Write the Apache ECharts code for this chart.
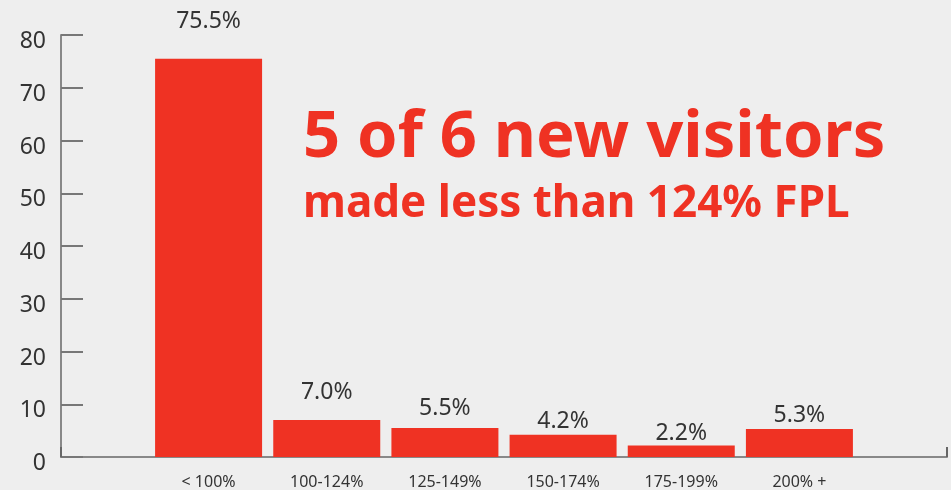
<!DOCTYPE html>
<html>
<head>
<meta charset="utf-8">
<script src="https://cdn.jsdelivr.net/npm/echarts@6/dist/echarts.min.js"></script>
<style>
  html, body { margin: 0; padding: 0; background: #eeeeee; }
  #chart { width: 951px; height: 490px; }
</style>
</head>
<body>
<div id="chart"></div>
<script>
// Income bands relative to the Federal Poverty Level
const categories = ['< 100%', '100-124%', '125-149%', '150-174%', '175-199%', '200% +'];
// Share of new visitors in each band (%)
const shares = [75.5, 7.0, 5.5, 4.2, 2.2, 5.3];
// Value-axis tick labels
const yTicks = [0, 10, 20, 30, 40, 50, 60, 70, 80];

const headline = '5 of 6 new visitors';
const subline = 'made less than 124% FPL';

// gap between each value label and the top of its bar
const labelGaps = [26, 16, 8, 2, 0, 2];

const RED = '#ef3223';
const FONT = '"Noto Sans", sans-serif';

const chart = echarts.init(document.getElementById('chart'), null, { renderer: 'canvas' });

chart.setOption({
  backgroundColor: '#eeeeee',
  animation: false,
  grid: [
    // frame grid: carries the y-axis and the full-width baseline
    { left: 61, right: 4, top: 35, bottom: 33 },
    // bar grid: categories sit in the middle of the frame
    { left: 149.5, width: 709, top: 35, bottom: 33 }
  ],
  xAxis: [
    {
      gridIndex: 0, type: 'value', min: 0, max: 1, interval: 1,
      axisLine: { show: true, lineStyle: { color: '#888888', width: 2 } },
      axisTick: { show: true, inside: true, length: 10, lineStyle: { color: '#666666', width: 2 } },
      axisLabel: { show: false },
      splitLine: { show: false }
    },
    {
      gridIndex: 1, type: 'category', data: categories,
      axisLine: { show: false },
      axisTick: { show: false },
      axisLabel: { color: '#333333', fontSize: 16, fontFamily: FONT, margin: 17 },
      splitLine: { show: false }
    }
  ],
  yAxis: [
    {
      gridIndex: 0, type: 'value', min: yTicks[0], max: yTicks[yTicks.length - 1],
      interval: yTicks[1] - yTicks[0],
      axisLine: { show: true, lineStyle: { color: '#888888', width: 2 } },
      axisTick: { show: true, inside: true, length: 22, lineStyle: { color: '#777777', width: 2 } },
      axisLabel: {
        color: '#333333', fontSize: 23, fontFamily: FONT, margin: 15,
        verticalAlign: 'top', lineHeight: 13
      },
      splitLine: { show: false }
    },
    {
      gridIndex: 1, type: 'value', min: yTicks[0], max: yTicks[yTicks.length - 1],
      show: false, splitLine: { show: false }
    }
  ],
  series: [{
    type: 'bar',
    xAxisIndex: 1,
    yAxisIndex: 1,
    barWidth: 107,
    itemStyle: { color: RED },
    z: 1,
    data: shares.map((v, i) => ({
      value: v,
      label: { distance: labelGaps[i] }
    })),
    label: {
      show: true,
      position: 'top',
      color: '#333333',
      fontSize: 23,
      fontFamily: FONT,
      formatter: p => p.value.toFixed(1) + '%'
    }
  }],
  graphic: [
    {
      type: 'text', x: 303, y: 138,
      style: {
        text: headline, fill: RED, font: 'bold 65px ' + FONT,
        textAlign: 'left', textVerticalAlign: 'middle', verticalAlign: 'middle'
      }
    },
    {
      type: 'text', x: 303, y: 204,
      style: {
        text: subline, fill: RED, font: 'bold 44px ' + FONT,
        textAlign: 'left', textVerticalAlign: 'middle', verticalAlign: 'middle'
      }
    }
  ]
});
</script>
</body>
</html>
